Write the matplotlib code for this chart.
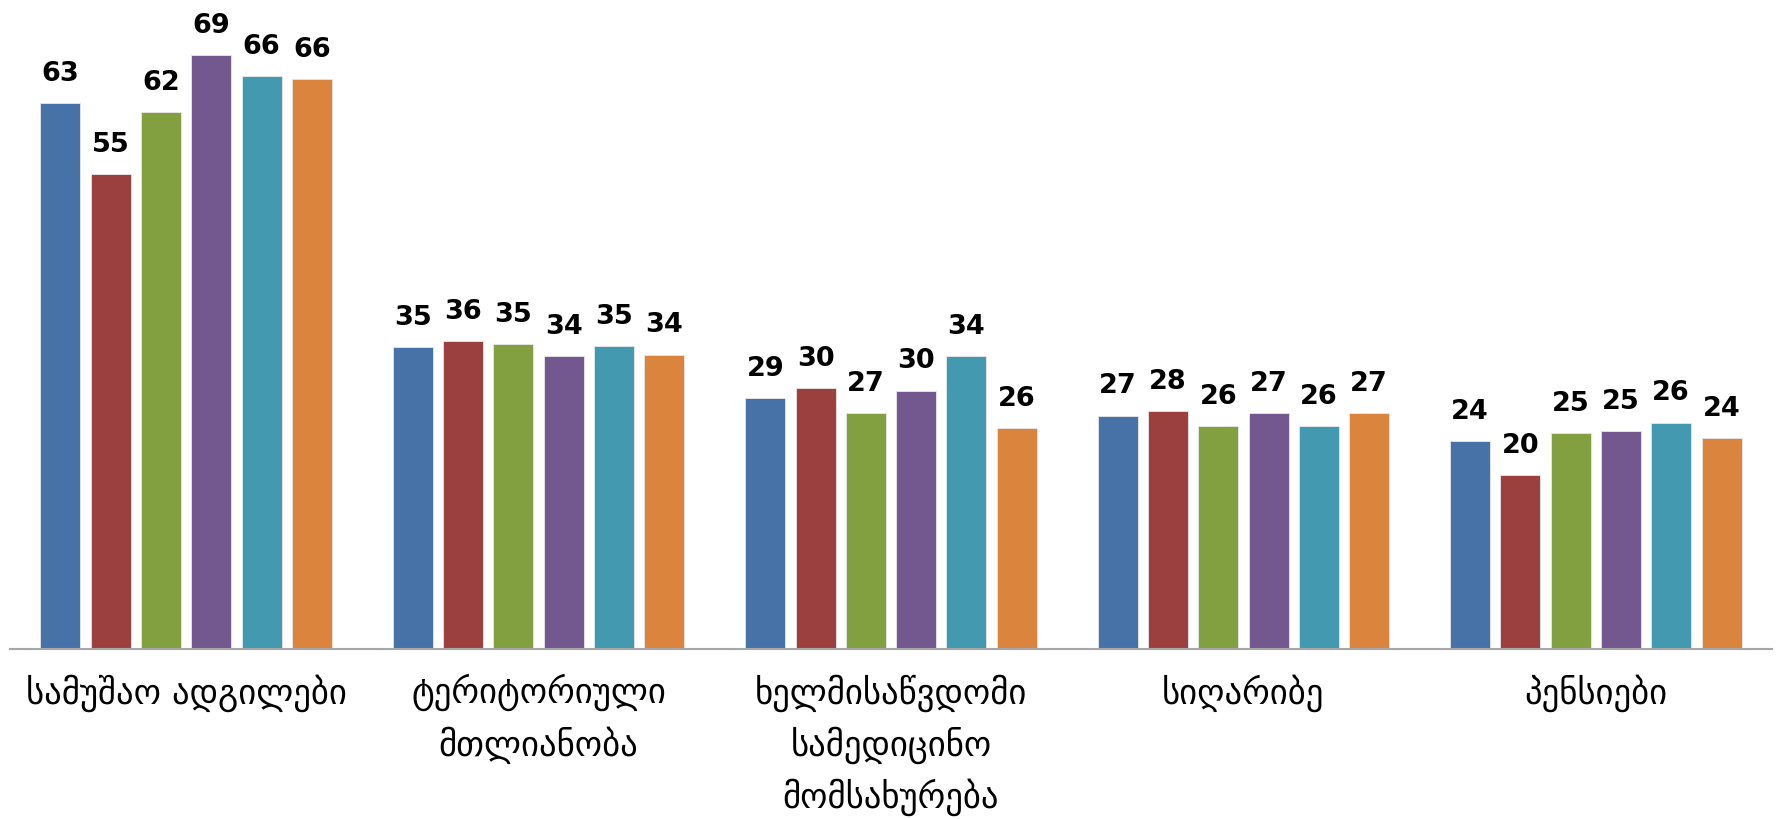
import matplotlib
matplotlib.use("Agg")
import matplotlib.pyplot as plt
import numpy as np

categories = ["სამუშაო ადგილები", "ტერიტორიული\nმთლიანობა",
              "ხელმისაწვდომი\nსამედიცინო\nმომსახურება", "სიღარიბე", "პენსიები"]

s1 = [63.4, 35.1, 29.1, 27.1, 24.1]
s2 = [55.2, 35.8, 30.3, 27.6, 20.2]
s3 = [62.4, 35.4, 27.4, 25.9, 25.1]
s4 = [69.0, 34.0, 30.0, 27.4, 25.3]
s5 = [66.5, 35.2, 34.0, 25.9, 26.3]
s6 = [66.2, 34.2, 25.7, 27.4, 24.5]
series = [s1, s2, s3, s4, s5, s6]
colors = ['#4672A8', '#9B403E', '#82A040', '#72588E', '#4399B0', '#DB843D']

W, H = 1779, 819
fig = plt.figure(figsize=(W / 100, H / 100), dpi=100)
ax = fig.add_axes([10 / W, 1 - 649 / H, 1762 / W, 649 / H])

x = np.arange(len(categories))
pitch = 0.1427
bw = 0.1135
for i, (vals, c) in enumerate(zip(series, colors)):
    xs = x + (i - 2.5) * pitch
    ax.bar(xs, vals, width=bw, color=c, edgecolor='#e8e8e8', linewidth=0.6, zorder=2)
    for xi, v in zip(xs, vals):
        ax.annotate(f"{v:.0f}", (xi, v), xytext=(0, 16), textcoords='offset points',
                    ha='center', va='baseline', fontsize=19.5, fontweight='bold',
                    family='DejaVu Sans', color='black')

ax.set_xlim(-0.5, 4.5)
ax.set_ylim(0, 649 / 8.61)
for sp in ['top', 'right', 'left']:
    ax.spines[sp].set_visible(False)
ax.spines['bottom'].set_color('#a6a6a6')
ax.spines['bottom'].set_linewidth(1.5)
ax.set_yticks([])
ax.set_xticks(x)
ax.set_xticklabels(categories, fontsize=25, family='DejaVu Sans', linespacing=1.5,
                   va='top')
ax.tick_params(axis='x', length=0, pad=18)

fig.savefig("out.png", dpi=100)
